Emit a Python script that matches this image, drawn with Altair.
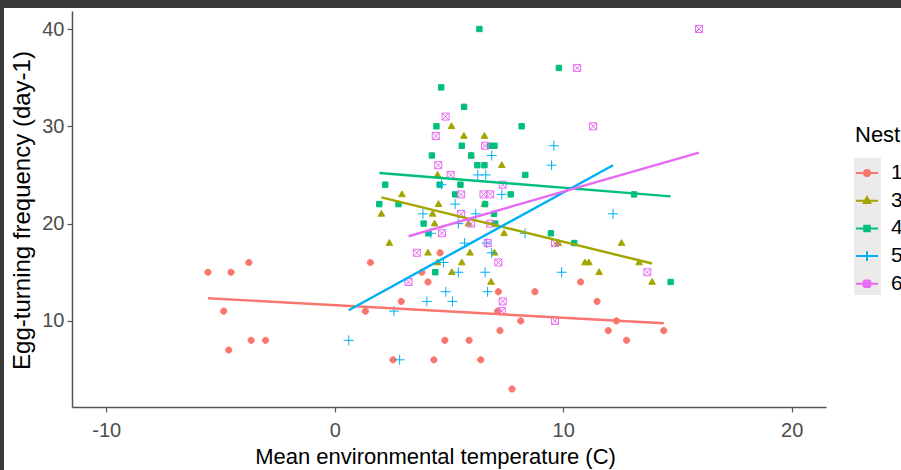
import altair as alt
import pandas as pd

# ---------------- data ----------------
nests = ["1", "3", "4", "5", "6"]
colors = ["#F8766D", "#A3A500", "#00BF7D", "#00B0F6", "#E76BF3"]

x1 = [-5.55, -4.54, -3.76, -4.86, -3.66, -3.03, -4.64, 4.61, 1.56, 3.81, 4.08, 7.16, 8.76, 10.76, 2.91,
      11.48, 1.34, 7.13, 12.33, 8.14, 7.23, 11.97, 12.77, 4.82, 5.88, 2.55, 4.34, 6.39, 7.76, 14.4]
y1 = [15, 15, 16, 11, 8, 8, 7, 17, 16, 15, 14, 13, 13, 14, 12,
      12, 11, 11, 10, 10, 9, 9, 8, 8, 8, 6, 6, 6, 3, 9]

x3 = [5.11, 5.65, 6.55, 7.31, 4.50, 5.97, 2.94, 4.54, 6.55, 2.04, 4.28, 4.37, 5.85, 7.41, 2.39,
      12.55, 9.78, 4.08, 5.92, 6.99, 4.50, 5.56, 10.95, 11.12, 13.32, 5.12, 11.57, 6.84, 13.89]
y3 = [30, 29, 29, 26, 25, 27, 23, 22, 22, 21, 21, 20, 20, 19, 18,
      18, 18, 17, 17, 17, 16, 16, 16, 16, 16, 15, 15, 14, 14]

x4 = [6.33, 9.81, 4.66, 5.66, 4.45, 8.18, 5.56, 6.80, 6.99, 4.25, 5.97, 6.24, 6.55, 8.34, 2.21, 4.59,
      5.50, 5.27, 7.70, 13.1, 14.7, 1.95, 2.79, 6.58, 6.97, 3.89, 7.02, 4.10, 9.46, 10.48, 4.40]
y4 = [40, 36, 34, 32, 30, 30, 28, 28, 28, 27, 27, 26, 26, 25, 24, 24,
      24, 23, 23, 23, 14, 22, 22, 22, 21, 20, 20, 19, 19, 18, 15]

x5 = [9.59, 9.49, 6.87, 6.26, 6.61, 4.67, 7.31, 5.27, 3.86, 6.17, 12.18, 5.41, 4.21, 8.33,
      5.68, 6.65, 6.87, 4.76, 5.41, 6.58, 9.93, 4.86, 6.69, 4.03, 5.15, 2.59, 2.84, 0.61]
y5 = [28, 26, 27, 25, 25, 24, 23, 22, 21, 21, 21, 20, 19, 19,
      18, 18, 17, 16, 15, 15, 15, 13, 13, 12, 12, 11, 6, 8]

x6 = [10.61, 11.31, 4.85, 4.42, 6.58, 4.53, 5.07, 7.35, 5.53, 6.51, 6.80, 15.94, 5.53,
      5.97, 6.80, 4.69, 6.69, 9.64, 3.59, 7.16, 3.23, 13.68, 7.35, 7.31, 9.64]
y6 = [36, 30, 31, 29, 28, 26, 25, 24, 23, 23, 23, 40, 21,
      20, 20, 19, 18, 18, 17, 16, 14, 15, 12, 11, 10]

# fitted lines (start / end)
line_x0 = [-5.55, 2.04, 1.95, 0.61, 3.23]
line_y0 = [12.33, 22.7, 25.2, 11.1, 18.7]
line_x1 = [14.4, 13.89, 14.7, 12.18, 15.94]
line_y1 = [9.76, 15.9, 22.8, 26.0, 27.3]

x_ticks = [-10, 0, 10, 20]
y_ticks = [10, 20, 30, 40]

# ---------------- tables ----------------
rows = []
for n, xs, ys in zip(nests, [x1, x3, x4, x5, x6], [y1, y3, y4, y5, y6]):
    for xv, yv in zip(xs, ys):
        rows.append({"x": xv, "y": yv, "key": n + "p"})
points = pd.DataFrame(rows)

lrows = []
for n, a, b, c, d in zip(nests, line_x0, line_y0, line_x1, line_y1):
    lrows.append({"x": a, "y": b, "key": n})
    lrows.append({"x": c, "y": d, "key": n})
lines = pd.DataFrame(lrows)

# shapes: points (unit box, size 100) and legend keys (line + marker)
point_paths = [
    "M-0.62,0A0.62,0.62 0 1,0 0.62,0A0.62,0.62 0 1,0 -0.62,0Z",
    "M0,-0.7L0.66,0.46L-0.66,0.46Z",
    "M-0.54,-0.54H0.54V0.54H-0.54Z",
    "M-1,0H1M0,-1V1",
    "M-0.7,-0.7H0.7M0.7,-0.7V0.7M0.7,0.7H-0.7M-0.7,0.7V-0.7M-0.7,-0.7L0.7,0.7M0.7,-0.7L-0.7,0.7",
]
legend_paths = [
    "M-1,0H1M-0.28,0A0.28,0.28 0 1,0 0.28,0A0.28,0.28 0 1,0 -0.28,0Z",
    "M-1,0H1M0,-0.34L0.3,0.2L-0.3,0.2Z",
    "M-1,0H1M-0.25,-0.25H0.25V0.25H-0.25Z",
    "M-1,0H1M0,-0.45V0.45",
    "M-1,0H1M-0.3,-0.3H0.3M0.3,-0.3V0.3M0.3,0.3H-0.3M-0.3,0.3V-0.3M-0.3,-0.3L0.3,0.3M0.3,-0.3L-0.3,0.3",
]
key_domain = nests + [n + "p" for n in nests]

FONT = "Liberation Sans"
xscale = alt.Scale(domain=[-11.5, 21.5], nice=False, zero=False)
yscale = alt.Scale(domain=[1.15, 41.85], nice=False, zero=False)
fill_scale = alt.Scale(domain=key_domain, range=colors + colors)
shape_scale = alt.Scale(domain=key_domain, range=legend_paths + point_paths)

leg = alt.Legend(
    title="Nest", values=nests, orient="none", legendX=783, legendY=114,
    symbolSize=484, symbolStrokeWidth=2, symbolOpacity=1,
    titleFontSize=22, titleFont=FONT, titleColor="black", titleFontWeight="normal",
    titlePadding=14, labelFontSize=21, labelFont=FONT, labelColor="black",
    labelOffset=12, rowPadding=5.7, padding=0,
)

xaxis = alt.Axis(values=x_ticks, labelExpr="'' + datum.value", title="Mean environmental temperature (C)",
                 grid=False, zindex=1, titleX=363, titleY=49, titleBaseline="middle", labelPadding=8)
yaxis = alt.Axis(values=y_ticks, title="Egg-turning frequency (day-1)", titleFontSize=24,
                 grid=False, zindex=1, titleX=-50, titleY=199, titleBaseline="middle", labelPadding=3)

bg = alt.Chart(pd.DataFrame({"a": [0]})).mark_rect(color="white").encode(
    x=alt.value(-68), x2=alt.value(829), y=alt.value(-3), y2=alt.value(459)
)
keybg = alt.Chart(pd.DataFrame({"a": [0]})).mark_rect(color="#EBEBEB").encode(
    x=alt.value(782), x2=alt.value(809), y=alt.value(147), y2=alt.value(284)
)

pts = alt.Chart(points).mark_point(filled=True, opacity=1, size=100, strokeWidth=1).encode(
    x=alt.X("x:Q", scale=xscale, axis=xaxis),
    y=alt.Y("y:Q", scale=yscale, axis=yaxis),
    fill=alt.Fill("key:N", scale=fill_scale, legend=leg),
    stroke=alt.Stroke("key:N", scale=fill_scale, legend=leg),
    shape=alt.Shape("key:N", scale=shape_scale, legend=leg),
)

lns = alt.Chart(lines).mark_line(strokeWidth=2.4).encode(
    x=alt.X("x:Q", scale=xscale),
    y=alt.Y("y:Q", scale=yscale),
    stroke=alt.Stroke("key:N", scale=fill_scale, legend=None),
    detail="key:N",
)

chart = alt.layer(bg, keybg, pts, lns).properties(
    width=754, height=396,
    autosize=alt.AutoSizeParams(type="none"),
    padding={"left": 72, "top": 11, "right": 75, "bottom": 63},
    background="#383838",
).configure_view(stroke=None).configure_axis(
    domainColor="#555555", domainWidth=1.5, tickColor="#555555", tickWidth=1.2, tickSize=5,
    labelFont=FONT, labelFontSize=20, labelColor="#4D4D4D",
    titleFont=FONT, titleFontSize=22, titleColor="black", titleFontWeight="normal",
)

chart.save("out.html", embed_options={"renderer": "svg", "actions": False})
